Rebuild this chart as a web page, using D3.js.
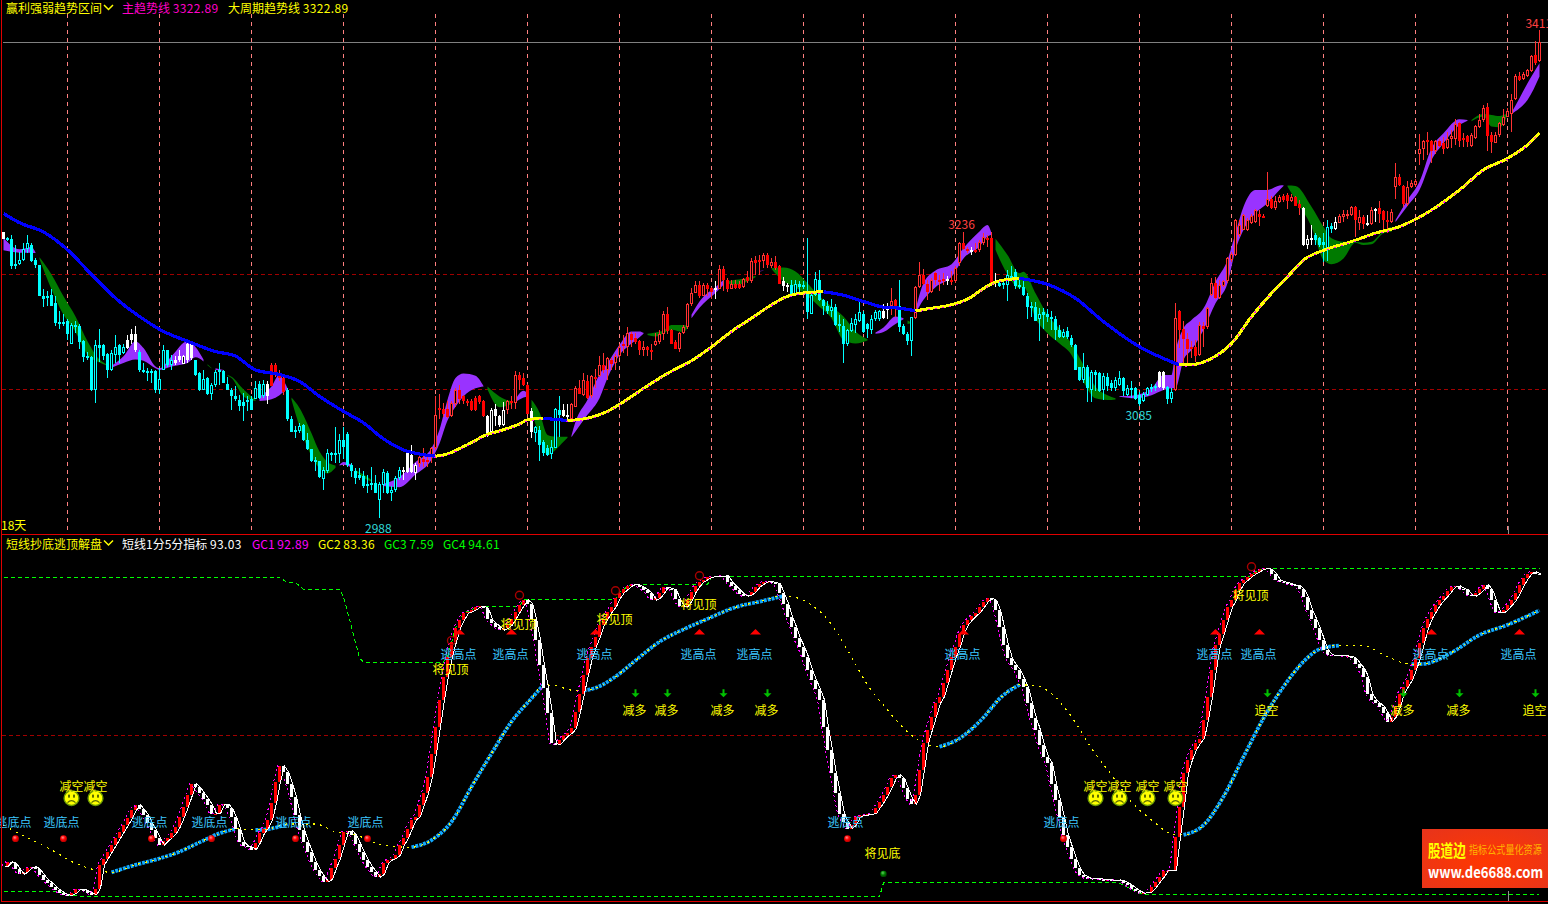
<!DOCTYPE html>
<html>
<head>
<meta charset="utf-8">
<script src="https://cdn.jsdelivr.net/npm/d3@7"></script>
<style>
  html, body { margin: 0; background: #000; overflow: hidden; }
  text { font-family: "Noto Sans CJK SC", "Noto Sans", sans-serif; font-size: 12px; dominant-baseline: central; }
</style>
</head>
<body>
<svg id="chart" width="1548" height="904"></svg>
<script>
// candles, one value per bar
const highs = [
  3237,3233,3234,3226,3220,3227,3234,3227,3214,3208,
  3187,3186,3187,3181,3168,3166,3161,3158,3160,3157,
  3143,3133,3129,3143,3153,3140,3132,3134,3147,3140,
  3140,3147,3153,3155,3134,3123,3119,3118,3117,3119,
  3139,3134,3130,3129,3134,3130,3142,3142,3126,3115,
  3117,3111,3106,3117,3123,3117,3111,3101,3103,3095,
  3097,3094,3094,3107,3107,3108,3107,3123,3123,3117,
  3111,3101,3077,3068,3071,3070,3062,3048,3041,3038,
  3033,3048,3046,3067,3061,3067,3063,3036,3032,3032,
  3029,3026,3033,3026,3020,3031,3029,3016,3025,3033,
  3033,3046,3052,3036,3043,3049,3042,3050,3094,3096,
  3088,3090,3090,3101,3104,3095,3092,3092,3094,3095,
  3091,3078,3084,3087,3078,3089,3091,3094,3116,3115,
  3114,3105,3084,3068,3068,3056,3052,3056,3084,3094,
  3087,3087,3088,3103,3108,3114,3113,3113,3118,3129,
  3132,3128,3127,3131,3140,3147,3154,3150,3149,3143,
  3142,3138,3140,3149,3152,3168,3172,3153,3143,3150,
  3156,3175,3188,3194,3194,3193,3193,3189,3194,3208,
  3207,3197,3195,3195,3194,3197,3203,3214,3216,3217,
  3219,3219,3214,3216,3208,3198,3193,3195,3195,3194,
  3194,3232,3185,3202,3204,3179,3177,3179,3174,3165,
  3161,3153,3162,3166,3177,3168,3158,3165,3169,3169,
  3174,3175,3188,3179,3195,3157,3150,3163,3190,3211,
  3205,3195,3197,3202,3200,3201,3199,3203,3207,3228,
  3237,3224,3224,3227,3230,3236,3234,3237,3201,3195,
  3195,3204,3207,3205,3197,3198,3184,3176,3176,3171,
  3171,3170,3168,3164,3156,3153,3154,3147,3140,3120,
  3132,3121,3117,3117,3115,3114,3114,3108,3111,3116,
  3111,3104,3107,3102,3098,3098,3102,3105,3105,3116,
  3116,3103,3101,3175,3169,3160,3149,3142,3143,3159,
  3159,3172,3197,3198,3195,3195,3215,3220,3248,3247,
  3253,3249,3253,3257,3256,3253,3289,3268,3268,3269,
  3270,3271,3270,3268,3265,3259,3234,3243,3236,3233,
  3236,3247,3245,3250,3253,3256,3256,3260,3260,3256,
  3252,3252,3259,3258,3264,3256,3255,3257,3297,3287,
  3278,3281,3282,3283,3322,3317,3324,3317,3317,3318,
  3320,3324,3326,3335,3333,3323,3321,3323,3330,3340,
  3347,3349,3324,3324,3333,3344,3345,3357,3374,3376,
  3376,3379,3391,3403,3413
];
const lows = [
  3231,3229,3205,3205,3208,3212,3219,3211,3206,3181,
  3172,3173,3173,3155,3153,3155,3143,3140,3149,3135,
  3124,3126,3099,3088,3124,3126,3110,3116,3123,3123,
  3131,3135,3140,3133,3115,3114,3107,3106,3097,3096,
  3117,3120,3117,3121,3124,3122,3123,3126,3112,3099,
  3100,3095,3091,3102,3104,3106,3100,3082,3090,3081,
  3073,3081,3082,3092,3092,3093,3087,3103,3111,3107,
  3095,3073,3063,3058,3062,3055,3047,3037,3029,3023,
  3013,3027,3038,3036,3036,3040,3033,3024,3018,3021,
  3014,3010,3013,3010,2988,3010,3009,3003,3011,3021,
  3021,3027,3027,3021,3033,3033,3033,3036,3047,3074,
  3076,3075,3076,3085,3087,3087,3086,3081,3081,3087,
  3076,3059,3061,3068,3067,3068,3079,3083,3083,3100,
  3103,3079,3058,3054,3038,3042,3042,3040,3049,3059,
  3076,3074,3073,3085,3096,3094,3092,3093,3101,3111,
  3114,3108,3117,3117,3127,3132,3129,3137,3140,3130,
  3129,3129,3126,3138,3140,3143,3148,3140,3135,3133,
  3148,3153,3173,3184,3180,3181,3181,3179,3179,3187,
  3186,3185,3187,3187,3187,3188,3193,3193,3200,3200,
  3206,3206,3206,3204,3192,3186,3185,3181,3181,3182,
  3187,3161,3166,3181,3177,3165,3166,3163,3155,3150,
  3123,3138,3150,3149,3159,3149,3145,3148,3160,3160,
  3161,3161,3165,3163,3150,3147,3139,3129,3161,3188,
  3191,3178,3184,3191,3186,3191,3191,3191,3193,3207,
  3221,3219,3217,3219,3220,3226,3224,3192,3189,3189,
  3187,3177,3195,3187,3187,3181,3161,3163,3160,3142,
  3153,3159,3152,3143,3145,3145,3144,3137,3117,3107,
  3106,3089,3089,3099,3098,3091,3099,3099,3099,3103,
  3094,3094,3093,3091,3086,3089,3094,3098,3099,3101,
  3100,3087,3088,3099,3136,3123,3123,3127,3124,3129,
  3137,3153,3181,3179,3179,3189,3193,3211,3216,3233,
  3239,3238,3244,3245,3242,3249,3259,3257,3256,3262,
  3263,3257,3263,3260,3252,3225,3222,3226,3226,3224,
  3211,3212,3236,3239,3245,3246,3248,3251,3233,3239,
  3240,3242,3243,3246,3245,3240,3236,3245,3266,3277,
  3259,3260,3275,3276,3295,3300,3304,3297,3305,3311,
  3305,3309,3310,3313,3311,3311,3311,3311,3318,3327,
  3333,3307,3306,3314,3320,3329,3337,3324,3352,3368,
  3369,3372,3376,3382,3385
];
const bodyTop = [
  3237,3232,3231,3209,3213,3222,3227,3226,3213,3208,
  3181,3181,3182,3175,3159,3159,3160,3156,3156,3155,
  3142,3129,3128,3139,3139,3139,3131,3132,3137,3139,
  3137,3143,3148,3148,3133,3117,3116,3116,3116,3109,
  3134,3134,3126,3126,3129,3129,3140,3140,3126,3114,
  3109,3110,3104,3115,3117,3116,3105,3100,3094,3091,
  3089,3091,3092,3101,3105,3105,3105,3121,3121,3114,
  3110,3100,3074,3065,3068,3069,3056,3048,3039,3038,
  3030,3045,3045,3045,3056,3056,3061,3034,3029,3026,
  3025,3018,3019,3019,3018,3028,3027,3013,3023,3030,
  3030,3045,3043,3034,3041,3040,3039,3049,3078,3084,
  3083,3083,3088,3100,3100,3094,3090,3090,3093,3094,
  3090,3077,3082,3083,3077,3082,3090,3090,3113,3113,
  3110,3104,3081,3067,3065,3054,3049,3050,3083,3082,
  3082,3078,3087,3101,3101,3108,3107,3112,3111,3121,
  3121,3127,3126,3129,3137,3140,3149,3148,3145,3142,
  3137,3137,3134,3142,3148,3166,3166,3152,3141,3149,
  3154,3174,3184,3191,3191,3191,3191,3188,3188,3205,
  3205,3195,3192,3192,3192,3196,3198,3212,3213,3213,
  3217,3217,3211,3211,3207,3194,3191,3191,3192,3192,
  3191,3183,3182,3196,3195,3178,3173,3172,3172,3157,
  3155,3152,3158,3161,3167,3166,3157,3161,3167,3168,
  3168,3171,3177,3178,3173,3155,3148,3163,3189,3200,
  3200,3192,3195,3201,3195,3196,3196,3195,3206,3227,
  3227,3222,3221,3221,3228,3233,3232,3232,3194,3193,
  3193,3200,3199,3202,3191,3189,3181,3173,3172,3166,
  3167,3166,3163,3161,3152,3150,3151,3145,3139,3120,
  3120,3120,3115,3115,3114,3112,3111,3106,3108,3110,
  3110,3101,3101,3101,3095,3096,3101,3102,3103,3115,
  3115,3102,3098,3162,3168,3153,3144,3137,3137,3156,
  3155,3171,3193,3193,3191,3194,3214,3218,3247,3243,
  3252,3247,3251,3256,3253,3251,3266,3266,3264,3267,
  3268,3269,3267,3267,3261,3258,3231,3232,3234,3232,
  3228,3241,3242,3246,3251,3253,3253,3259,3259,3250,
  3250,3245,3256,3257,3258,3255,3247,3254,3285,3285,
  3277,3276,3280,3281,3309,3316,3317,3316,3316,3316,
  3314,3318,3320,3331,3332,3319,3320,3321,3329,3334,
  3345,3346,3321,3321,3332,3337,3342,3352,3373,3373,
  3374,3378,3390,3391,3402
];
const bodyBottom = [
  3231,3230,3207,3207,3209,3213,3222,3212,3208,3181,
  3179,3180,3173,3158,3158,3158,3148,3140,3154,3141,
  3128,3127,3100,3100,3136,3129,3117,3117,3130,3130,
  3132,3136,3143,3134,3117,3115,3114,3115,3100,3100,
  3117,3121,3121,3123,3126,3122,3126,3127,3113,3100,
  3100,3096,3096,3104,3115,3106,3100,3094,3092,3086,
  3086,3090,3082,3092,3093,3094,3094,3103,3113,3110,
  3098,3074,3063,3064,3064,3056,3048,3038,3037,3024,
  3022,3029,3044,3044,3044,3050,3034,3029,3023,3023,
  3016,3016,3018,3010,3004,3017,3010,3010,3013,3023,
  3029,3028,3028,3027,3035,3037,3038,3042,3049,3082,
  3079,3076,3077,3087,3092,3090,3088,3082,3082,3089,
  3077,3062,3063,3077,3069,3069,3082,3088,3088,3108,
  3104,3079,3063,3062,3052,3045,3043,3044,3049,3078,
  3077,3077,3074,3085,3096,3095,3093,3094,3109,3112,
  3117,3117,3122,3123,3129,3138,3137,3143,3141,3134,
  3134,3134,3133,3139,3141,3148,3151,3140,3135,3135,
  3149,3154,3174,3184,3181,3181,3187,3185,3187,3187,
  3195,3187,3187,3188,3188,3189,3194,3194,3210,3211,
  3212,3208,3207,3206,3192,3190,3190,3182,3183,3189,
  3189,3167,3166,3182,3178,3173,3168,3168,3156,3155,
  3140,3140,3151,3156,3160,3150,3153,3152,3161,3161,
  3162,3169,3173,3172,3154,3148,3142,3142,3162,3189,
  3192,3185,3185,3195,3194,3195,3195,3194,3194,3210,
  3222,3220,3220,3220,3221,3227,3231,3193,3193,3190,
  3191,3191,3197,3190,3189,3182,3172,3171,3160,3161,
  3165,3163,3161,3152,3146,3146,3146,3139,3117,3108,
  3108,3101,3100,3113,3099,3100,3103,3101,3101,3104,
  3099,3095,3100,3092,3087,3090,3095,3101,3102,3102,
  3101,3092,3092,3100,3152,3144,3135,3136,3129,3130,
  3153,3154,3182,3180,3180,3190,3194,3213,3217,3234,
  3239,3239,3245,3246,3250,3249,3260,3258,3258,3263,
  3265,3264,3264,3260,3258,3226,3226,3231,3230,3226,
  3226,3223,3240,3240,3245,3250,3251,3252,3247,3245,
  3244,3244,3244,3256,3253,3247,3246,3246,3276,3278,
  3261,3261,3276,3278,3305,3309,3315,3307,3307,3312,
  3309,3310,3318,3318,3316,3318,3315,3312,3319,3328,
  3334,3320,3315,3314,3321,3330,3337,3340,3353,3369,
  3370,3373,3377,3384,3386
];
// bars whose close is above the open, drawn hollow
const upBars = [3,4,5,6,17,23,27,28,30,39,40,42,45,50,52,53,63,65,74,80,81,84,91,94,95,97,98,99,103,104,107,108,112,113,122,125,126,128,133,137,138,142,143,145,147,149,151,153,154,156,160,163,164,165,169,170,171,172,173,175,179,182,185,187,190,192,198,202,203,207,211,212,213,214,217,218,219,222,227,228,229,232,238,239,244,245,251,259,265,270,272,275,278,279,281,285,286,292,293,299,301,302,304,305,306,307,308,309,310,311,312,313,316,318,319,322,326,331,333,334,335,336,337,339,342,347,348,351,352,353,354,355,358,361,362,363,367,368,369,370,373,374,375,376,377,378,380,381,382,384];
// candle regime: from this bar on, w = white, c = cyan, r = red
const regimeFrom = [0,1,31,34,43,48,66,67,71,100,104,121,126,132,133,140,142,178,179,195,197,220,222,224,228,236,237,242,243,248,249,289,291,293,325,328,333,334,341,342,343,344];
const regimeName = ['w','c','w','c','w','c','w','r','c','w','r','w','r','w','c','w','r','w','r','w','c','w','r','c','r','w','r','w','r','w','c','w','c','r','w','c','w','r','w','r','w','r'];

// trend line, read at these bars
const trendBars = [0,4,10,16,22,28,34,40,46,53,58,63,69,74,79,85,90,95,100,108,110,116,121,124,129,131,135,141,146,151,156,160,166,172,177,182,187,192,196,200,205,210,215,220,224,228,232,236,241,246,249,254,261,268,275,284,290,294,298,302,307,312,317,321,325,330,337,343,349,355,364,370,376,381,384];
const trendVals = [3253,3245,3237,3221.5,3200,3179.5,3163.5,3150.5,3142,3133,3129,3117,3113,3107,3094,3081,3071,3057,3047.5,3042,3043,3052,3061,3064,3070,3073.6,3075,3073,3075,3081,3091.6,3101,3114,3125,3137,3150.5,3162,3173.6,3181,3184,3185,3182,3176.5,3171.6,3170.7,3168.4,3170.7,3172.8,3178.6,3190,3194.5,3196.6,3191.4,3179.3,3159,3137.2,3127,3121.3,3122,3127,3140,3163.3,3183.6,3198,3212.6,3221,3228.6,3236,3241.6,3251.8,3273.5,3291,3301,3312.7,3322.89];

// cloud edges: purple where fast is above slow, green where below
const bandBars = [0,4,7,8,9,12,15,18,21,24,26,27,30,33,35,38,39,42,46,48,50,51,52,53,55,56,57,60,63,64,67,69,70,71,72,74,77,79,81,83,84,85,87,88,90,92,95,99,103,107,109,111,113,115,118,120,121,124,127,128,130,131,132,134,136,138,140,141,142,143,146,149,151,154,157,159,160,161,163,165,167,170,171,172,174,176,178,180,181,183,186,188,189,190,192,195,198,201,204,207,210,213,216,218,220,223,225,226,227,228,230,233,237,240,244,246,247,248,251,254,255,258,261,264,267,270,273,276,278,279,283,287,290,292,293,295,297,300,303,306,308,310,313,316,319,320,321,323,327,330,332,335,338,340,342,345,347,348,351,354,357,360,364,366,367,370,372,374,376,377,379,381,384];
const bandFast = [3232,3222,3224,3219.2,3213.4,3187,3165,3150,3130,3123.5,3120.6,3120.6,3129,3142,3136,3120,3118.5,3129,3142,3137,3126,3121,3118.3,3118.5,3117,3112,3110,3094,3090,3094,3102.6,3113,3108,3101,3091,3068,3042,3031.5,3027,3032,3034.5,3037,3034.5,3028.6,3023,3020,3018,3024,3037,3049,3065,3091,3110,3114,3112,3103,3100,3084.6,3087.5,3091.6,3099,3097,3082,3059,3043,3047.5,3054.5,3058,3060,3072,3091,3113,3123,3139,3150.5,3150.5,3149.3,3147.3,3146,3149,3152,3150,3154,3165,3176.5,3184,3189,3195.4,3192.5,3191,3194,3197.7,3203,3203.5,3204.7,3194,3189,3181,3172,3162,3143,3140,3142.6,3149.6,3154,3163.5,3162,3157,3157.7,3169,3192.5,3203.5,3209,3223,3237.5,3243,3236,3221.5,3200,3188,3189.4,3161.9,3148.8,3140,3130,3106.8,3092.3,3090.8,3091.4,3094.3,3095.1,3101,3112.6,3112.6,3132.9,3153.2,3160.4,3170.6,3193.8,3212.6,3235.8,3259,3273.5,3273.5,3277.3,3277.6,3276.5,3264.8,3241.6,3212.6,3209,3214,3227.7,3225.6,3226.2,3235.8,3237.2,3247.4,3264.8,3280.8,3309.8,3322.8,3335,3334.4,3333.2,3337.3,3328.6,3328,3338.8,3340.8,3353.3,3366.3,3383.7];
const bandSlow = [3221,3219,3219,3218.6,3215,3200,3181,3163.5,3142,3126,3121.5,3119,3123,3126,3125,3118.5,3117,3120,3123,3128,3124.4,3122,3118.6,3117,3116.5,3112.7,3111,3100,3091,3090,3091.6,3095,3098,3100,3093,3084,3062,3046,3037,3034,3034,3034.5,3032,3030,3026,3021.4,3016,3015,3026,3039,3053,3073,3085,3094,3101,3102.6,3102.6,3094,3089.6,3089,3093,3094,3091,3080,3060.5,3059,3059,3059,3058.5,3063.5,3078,3092.5,3110,3130,3140,3145.5,3148.4,3148.4,3149.6,3151.3,3156,3156,3155,3162,3171,3178,3184,3191,3194,3195.4,3197,3199,3202.7,3203.2,3205.5,3206,3202.6,3192.5,3181,3172,3163.5,3150.5,3143.8,3148.4,3150,3157,3161,3160,3158.3,3166,3178,3189,3198,3214,3224.4,3233,3234.5,3231,3217,3201,3202.4,3183.6,3164.8,3153,3140,3121.2,3102.4,3095.1,3092.3,3093.7,3092.3,3095,3099.5,3101,3101,3125.6,3134.3,3151.7,3174.9,3192.3,3221.3,3238.7,3253.2,3261.9,3273.5,3277,3277.3,3277,3259,3241.6,3231.5,3228.5,3228.5,3227.7,3228.5,3238.1,3241.6,3245.7,3259.6,3273.5,3299.6,3314.1,3330,3333.8,3334.4,3339.6,3338.8,3337.9,3340.2,3339.6,3344.5,3351.8,3372.1];

const priceGrid = [3200, 3100];
const topLine = 3402;
const dateBars = [16,39,62,85,108,131,154,177,200,215,238,261,284,307,330,353,376];

// oscillator, one value per bar
const oscMain = [
  15.2,16.3,15.9,14.3,13.0,13.7,14.8,15.0,14.3,12.8,
  11.6,10.7,9.7,8.8,8.1,7.5,7.4,7.9,9.0,9.0,
  8.6,8.1,7.5,9.2,15.5,17.2,19.0,20.8,22.6,24.3,
  26.1,27.9,30.1,31.5,30.3,28.8,26.6,24.8,22.6,20.8,
  21.9,22.8,23.9,25.7,28.2,31.0,34.1,37.1,36.2,34.6,
  33.2,31.5,29.2,29.2,31.5,31.7,30.6,28.3,25.2,21.7,
  20.5,20.2,19.6,21.4,23.9,25.2,27.5,31.9,37.7,41.9,
  40.3,37.2,33.7,28.8,24.8,21.7,19.0,16.3,14.1,12.5,
  11.0,11.6,14.6,17.2,20.8,24.3,24.6,23.5,21.2,19.0,
  16.8,15.0,13.7,12.2,13.0,15.9,16.8,17.2,18.1,20.8,
  22.6,25.2,27.5,28.3,31.5,34.6,39.0,45.2,52.3,59.5,
  65.7,71.0,75.0,78.6,80.8,82.6,83.0,83.5,84.2,84.5,
  83.9,81.0,79.9,79.0,78.1,78.6,79.5,81.2,83.0,84.8,
  86.1,85.2,81.2,75.5,68.8,62.6,55.9,47.9,47.5,48.8,
  49.9,50.6,51.9,56.3,61.2,66.1,70.6,73.7,76.4,79.5,
  81.2,83.0,84.4,86.6,88.1,89.0,89.9,90.3,90.1,89.5,
  88.8,87.9,86.1,86.6,87.9,89.5,89.2,88.8,86.3,84.5,
  84.5,86.1,88.4,89.9,91.0,91.6,92.2,92.4,92.5,92.5,
  92.6,91.0,89.9,88.8,87.7,87.2,87.5,88.4,89.7,90.4,
  91.0,91.0,90.8,90.4,87.9,85.2,81.7,79.0,75.9,73.7,
  71.0,67.5,64.8,62.3,59.5,52.3,46.1,39.9,34.6,29.2,
  27.0,25.2,26.1,28.2,28.8,28.8,29.0,29.2,30.8,32.3,
  34.1,36.3,38.6,39.5,38.6,35.9,33.2,31.7,34.1,40.8,
  47.9,51.5,55.0,58.6,60.3,63.9,67.5,71.0,73.7,77.2,
  79.5,80.8,81.9,82.8,84.2,85.7,86.6,86.1,83.5,79.0,
  74.1,70.6,68.8,67.5,65.2,63.0,58.6,54.6,51.5,47.5,
  44.3,42.6,37.2,32.8,28.3,23.5,20.3,17.2,14.6,12.8,
  12.3,11.7,11.9,11.9,11.6,11.5,11.5,11.3,11.5,11.3,
  10.7,10.1,9.2,8.6,7.9,8.1,8.3,9.5,11.0,12.3,
  14.0,14.0,14.1,23.0,31.0,39.9,43.5,46.1,47.9,49.2,
  54.1,60.3,67.5,74.1,77.2,80.8,84.2,86.1,88.8,90.6,
  91.5,92.4,93.1,93.7,94.3,94.6,94.3,93.2,91.5,91.0,
  90.8,90.4,90.1,89.9,89.0,87.0,83.5,81.2,78.6,75.5,
  72.8,71.5,71.4,71.4,71.4,71.2,71.2,70.6,69.2,67.9,
  65.7,61.2,59.5,58.6,57.7,55.9,53.7,55.0,57.7,61.2,
  63.0,64.8,67.5,70.6,74.6,78.6,81.2,83.0,84.8,86.1,
  87.2,88.6,89.7,89.9,89.2,88.8,87.5,87.2,87.9,89.0,
  90.1,89.0,86.1,83.0,82.7,83.6,84.8,86.1,87.9,90.1,
  91.9,93.2,93.7,93.1,93.03
];
// slow oscillator line
const gc2Bars = [0,3,8,12,18,24,27,33,39,44,49,54,58,63,66,71,78,83,88,94,99,102,107,112,117,122,127,132,135,138,142,145,148,153,158,164,170,176,183,189,195,198,202,207,211,216,221,226,231,234,239,244,250,254,258,262,267,272,277,282,287,293,295,300,305,310,315,320,325,329,334,340,345,352,355,362,369,376,384];
const gc2Vals = [26.1,24.3,21.7,19.5,15.9,13.9,13.5,15.5,17.2,19.0,21.5,23.9,25.1,24.8,25.0,26.4,26.4,24.3,23.5,21.0,20.3,20.2,22.1,27.0,36.3,45.2,53.7,59.9,63.5,63.3,62.1,62.0,62.7,65.7,70.0,75.0,78.3,81.1,84.2,85.7,87.2,86.8,84.8,79.6,72.8,63.5,56.8,51.0,47.5,47.0,49.2,53.7,60.8,63.5,63.3,61.2,55.0,46.6,39.5,32.3,27.5,23.5,23.5,26.1,33.7,44.3,54.6,63.0,69.7,73.0,74.0,74.0,71.5,69.0,69.1,72.1,76.8,79.5,83.36];
// green channel lines
const gc4Bars = [0,69,71,73,75,84,85,87,89,90,110,111,113,115,119,129,130,153,154,155,157,176,177,180,312,313,315,384];
const gc4Vals = [92.1,92.1,90.8,90.8,89.0,89.0,87.0,79.0,70.6,69.6,69.6,71.0,78.6,82.6,84.5,84.5,86.2,86.2,88.1,89.0,90.3,90.3,92.2,92.4,92.4,93.7,94.61,94.61];
const gc3Bars = [0,14,16,22,219,220,277,279,284,286,384];
const gc3Vals = [8.3,8.3,7.4,7.0,7.0,10.7,10.8,10.6,7.9,7.5,7.59];

// signals
const escapeLowBars = [3,15,37,52,73,91,211,265];
const escapeHighBars = [114,127,148,174,188,240,303,314,357,379];
const arrowBars = [158,166,180,191,316,350,364,383];
const arrowLabels = ['减多','减多','减多','减多','追空','减多','减多','追空'];
const faceBars = [17,23,273,279,286,293];
const topSignalBars = [112,129,153,174,312];
const topSignalVals = [75.3,87.4,88.6,92.6,95.0];
const bottomSignalBars = [220];
const bottomSignalVals = [13.1];
const escapeLowLevel = 22.5, escapeHighLevel = 77.6, arrowLevel = 61.3, faceLevel = 33.3;

const priceMarks = [
  {text: '3411', bar: 383.8, price: 3419, color: '#ff4040'},
  {text: '3236', bar: 239.5, price: 3244.5, color: '#ff4040'},
  {text: '3085', bar: 283.8, price: 3078.5, color: '#30d8d8'},
  {text: '2988', bar: 93.7, price: 2980.4, color: '#30d8d8'}
];

const svg = d3.select('#chart');
const x = d3.scaleLinear().domain([0, 384]).range([3.5, 1539.5]);
const priceY = d3.scaleLinear().domain([3000, 3400]).range([504.5, 44.5]);
const oscY = d3.scaleLinear().domain([0, 100]).range([923, 548]);
const RED = '#e00000', YELLOW = '#ffff00', SIGNAL_BLUE = '#3cc8ff';

const defs = svg.append('defs');
function ballGradient(id, light, mid, dark) {
  let g = defs.append('radialGradient').attr('id', id).attr('cx', '40%').attr('cy', '35%').attr('r', '65%');
  g.append('stop').attr('offset', '0%').attr('stop-color', light);
  g.append('stop').attr('offset', '50%').attr('stop-color', mid);
  g.append('stop').attr('offset', '100%').attr('stop-color', dark);
}
ballGradient('ballRed', '#ff9090', '#ff0000', '#b00000');
ballGradient('ballGreen', '#60d060', '#008000', '#004000');
let bannerFill = defs.append('radialGradient').attr('id', 'banner').attr('cx', '50%').attr('cy', '55%').attr('r', '70%');
bannerFill.append('stop').attr('offset', '0%').attr('stop-color', '#ff3800');
bannerFill.append('stop').attr('offset', '100%').attr('stop-color', '#e8341a');

// cuts knots into runs of one direction, neighbours share their end point
function directionRuns(vals) {
  let runs = [], run = [0];
  for (let i = 1; i < vals.length; i++) {
    let rising = vals[i] > vals[i - 1];
    if (run.length > 1 && rising !== run.rising) {
      runs.push(run);
      run = [i - 1];
    }
    run.rising = rising;
    run.push(i);
  }
  runs.push(run);
  return runs;
}

// ---- grid
const grid = svg.append('g').attr('shape-rendering', 'crispEdges');
grid.selectAll('.date').data(dateBars).enter().append('line')
  .attr('x1', d => x(d)).attr('x2', d => x(d)).attr('y1', 14).attr('y2', 534)
  .attr('stroke', '#ff8080').attr('stroke-dasharray', '4 4');
grid.selectAll('.level').data(priceGrid).enter().append('line')
  .attr('x1', 2).attr('x2', 1548).attr('y1', d => priceY(d)).attr('y2', d => priceY(d))
  .attr('stroke', '#a00000').attr('stroke-dasharray', '4 3');
grid.append('line').attr('x1', 3).attr('x2', 1548).attr('y1', priceY(topLine)).attr('y2', priceY(topLine)).attr('stroke', '#808080');
grid.append('line').attr('x1', 2).attr('x2', 1548).attr('y1', oscY(50)).attr('y2', oscY(50))
  .attr('stroke', '#a00000').attr('stroke-dasharray', '4 3');

// ---- cloud
const cloud = svg.append('g');
const bandArea = d3.area().x(i => x(bandBars[i])).y0(i => priceY(bandFast[i])).y1(i => priceY(bandSlow[i])).curve(d3.curveMonotoneX);
let section = [];
bandBars.forEach((d, i) => {
  if (section.length && (bandFast[i] > bandSlow[i]) !== (bandFast[section[0]] > bandSlow[section[0]])) {
    drawCloud(section);
    section = [];
  }
  section.push(i);
});
drawCloud(section);
function drawCloud(part) {
  cloud.append('path').attr('d', bandArea(part))
    .attr('fill', bandFast[part[0]] > bandSlow[part[0]] ? '#9933ff' : '#007a00');
}

// ---- candles
const upSet = new Set(upBars);
const regime = i => regimeName[d3.bisectRight(regimeFrom, i) - 1];
const wickColor = {w: '#ffffff', c: '#00ffff', r: '#ff3232'};
const fillColor = {w: '#ffffff', c: '#00ffff', r: '#ff0000'};
const candle = svg.append('g').attr('shape-rendering', 'crispEdges')
  .selectAll('g').data(highs.map((d, i) => i)).enter().append('g');
candle.append('line')
  .attr('x1', i => x(i)).attr('x2', i => x(i))
  .attr('y1', i => priceY(highs[i])).attr('y2', i => priceY(lows[i]))
  .attr('stroke', i => wickColor[regime(i)]);
candle.append('rect')
  .attr('x', i => upSet.has(i) ? x(i) - 1 : x(i) - 1.5)
  .attr('width', i => upSet.has(i) ? 2 : 3)
  .attr('y', i => Math.round(priceY(bodyTop[i])) + (upSet.has(i) ? 0.5 : 0))
  .attr('height', i => Math.max(upSet.has(i) ? 1 : 2, Math.round(priceY(bodyBottom[i])) - Math.round(priceY(bodyTop[i])) - (upSet.has(i) ? 1 : 0)))
  .attr('fill', i => upSet.has(i) ? '#000' : fillColor[regime(i)])
  .attr('stroke', i => upSet.has(i) ? wickColor[regime(i)] : 'none');

// ---- trend line: blue falling, yellow rising with pink specks
const trendLine = d3.line().x(i => x(trendBars[i])).y(i => priceY(trendVals[i])).curve(d3.curveMonotoneX);
const trendGroup = svg.append('g').attr('fill', 'none').attr('shape-rendering', 'crispEdges');
directionRuns(trendVals).forEach(run => {
  if (run.rising) {
    trendGroup.append('path').attr('d', trendLine(run)).attr('stroke', YELLOW).attr('stroke-width', 3);
    trendGroup.append('path').attr('d', trendLine(run)).attr('stroke', '#ff00ff').attr('stroke-width', 1)
      .attr('stroke-dasharray', '2 5').attr('transform', 'translate(-1,1.4)');
  } else {
    trendGroup.append('path').attr('d', trendLine(run)).attr('stroke', '#0000ff').attr('stroke-width', 3.2);
  }
});

// ---- oscillator channel lines
const stepLine = (bars, vals) => d3.line().x(i => x(bars[i])).y(i => oscY(vals[i]))(bars.map((d, i) => i));
svg.append('path').attr('d', stepLine(gc4Bars, gc4Vals)).attr('fill', 'none').attr('stroke', '#00ff00').attr('stroke-dasharray', '4 3').attr('shape-rendering', 'crispEdges');
svg.append('path').attr('d', stepLine(gc3Bars, gc3Vals)).attr('fill', 'none').attr('stroke', '#00ff00').attr('stroke-dasharray', '4 3').attr('shape-rendering', 'crispEdges');

// ---- slow line: blue blocks rising, thin yellow dots all along
const gc2Line = d3.line().x(i => x(gc2Bars[i])).y(i => oscY(gc2Vals[i])).curve(d3.curveMonotoneX);
directionRuns(gc2Vals).filter(run => run.rising).forEach(run => {
  svg.append('path').attr('d', gc2Line(run)).attr('fill', 'none')
    .attr('stroke', '#10a8ff').attr('stroke-width', 3.8).attr('stroke-dasharray', '3 1');
});
svg.append('path').attr('d', gc2Line(gc2Bars.map((d, i) => i))).attr('fill', 'none')
  .attr('stroke', YELLOW).attr('stroke-width', 1.1).attr('stroke-dasharray', '2 5').attr('shape-rendering', 'crispEdges');

// ---- main oscillator: sticks run from the last value to this one
const sticks = svg.append('g').attr('shape-rendering', 'crispEdges');
sticks.selectAll('rect').data(oscMain.slice(1).map((d, i) => i + 1)).enter().append('rect')
  .attr('x', i => x(i) - 1.5).attr('width', 3)
  .attr('y', i => oscY(Math.max(oscMain[i], oscMain[i - 1])))
  .attr('height', i => Math.max(1, Math.abs(oscY(oscMain[i]) - oscY(oscMain[i - 1]))))
  .attr('fill', i => oscMain[i] >= oscMain[i - 1] ? '#ff0000' : '#ffffff');
const mainIndex = oscMain.map((d, i) => i);
svg.append('path')
  .attr('d', d3.line().x(i => x(i) - 2).y(i => oscY(oscMain[i]))(mainIndex))
  .attr('fill', 'none').attr('stroke', '#ff00ff').attr('stroke-dasharray', '2 3').attr('shape-rendering', 'crispEdges');
svg.append('path')
  .attr('d', d3.line().x(i => x(i) + 1).y(i => oscY(oscMain[Math.max(0, i - 1)]))(mainIndex))
  .attr('fill', 'none').attr('stroke', '#ffffff').attr('shape-rendering', 'crispEdges');

// ---- signals
const label = (sel, color) => sel.attr('text-anchor', 'middle').attr('fill', color);
svg.selectAll('.lowBall').data(escapeLowBars).enter().append('circle')
  .attr('cx', d => x(d)).attr('cy', oscY(escapeLowLevel)).attr('r', 3.4).attr('fill', 'url(#ballRed)');
label(svg.selectAll('.lowText').data(escapeLowBars).enter().append('text')
  .attr('x', d => x(d) - 2).attr('y', oscY(escapeLowLevel) - 17).text('逃底点'), SIGNAL_BLUE);

svg.selectAll('.tri').data(escapeHighBars).enter().append('path')
  .attr('d', 'M-5.5,2.5L0,-3L5.5,2.5Z')
  .attr('transform', d => `translate(${x(d)},${oscY(escapeHighLevel)})`)
  .attr('fill', '#ff0000');
label(svg.selectAll('.highText').data(escapeHighBars).enter().append('text')
  .attr('x', d => x(d) - 1).attr('y', oscY(escapeHighLevel) + 21.5).text('逃高点'), SIGNAL_BLUE);

svg.selectAll('.arrow').data(arrowBars).enter().append('path')
  .attr('d', 'M-1,-4H1V0H4L0,4L-4,0H-1Z')
  .attr('transform', d => `translate(${x(d)},${oscY(arrowLevel)})`)
  .attr('fill', '#00c000');
label(svg.selectAll('.arrowText').data(arrowBars).enter().append('text')
  .attr('x', d => x(d) - 1).attr('y', oscY(arrowLevel) + 16.5).text((d, i) => arrowLabels[i]), YELLOW);

const face = svg.selectAll('.face').data(faceBars).enter().append('g')
  .attr('transform', d => `translate(${x(d)},${oscY(faceLevel)})`);
face.append('circle').attr('r', 7.4).attr('fill', YELLOW).attr('stroke', '#6a9a00').attr('stroke-width', 1.4);
face.append('rect').attr('x', -3.5).attr('y', -3.5).attr('width', 2).attr('height', 3).attr('fill', '#5a6a00');
face.append('rect').attr('x', 1.5).attr('y', -3.5).attr('width', 2).attr('height', 3).attr('fill', '#5a6a00');
face.append('path').attr('d', 'M-4,4.5Q0,0.5 4,4.5').attr('fill', 'none').attr('stroke', '#5a6a00').attr('stroke-width', 1.3);
label(svg.selectAll('.faceText').data(faceBars).enter().append('text')
  .attr('x', d => x(d)).attr('y', oscY(faceLevel) - 13).text('减空'), YELLOW);

svg.selectAll('.topRing').data(topSignalBars).enter().append('circle')
  .attr('cx', d => x(d)).attr('cy', (d, i) => oscY(topSignalVals[i])).attr('r', 4)
  .attr('fill', 'none').attr('stroke', '#a80000').attr('stroke-width', 1.4);
label(svg.selectAll('.topText').data(topSignalBars).enter().append('text')
  .attr('x', d => x(d) - 1).attr('y', (d, i) => oscY(topSignalVals[i]) + 28).text('将见顶'), YELLOW);

svg.selectAll('.bottomBall').data(bottomSignalBars).enter().append('circle')
  .attr('cx', d => x(d)).attr('cy', (d, i) => oscY(bottomSignalVals[i])).attr('r', 3.2).attr('fill', 'url(#ballGreen)');
label(svg.selectAll('.bottomText').data(bottomSignalBars).enter().append('text')
  .attr('x', d => x(d) - 1).attr('y', (d, i) => oscY(bottomSignalVals[i]) - 21.5).text('将见底'), YELLOW);

// ---- price marks
priceMarks.forEach(m => {
  svg.append('text').attr('x', x(m.bar)).attr('y', priceY(m.price)).attr('text-anchor', 'middle')
    .attr('fill', m.color).text(m.text);
});
svg.append('text').attr('x', 1).attr('y', 524.5).attr('fill', YELLOW).text('18天');

// ---- frame
const frame = svg.append('g').attr('shape-rendering', 'crispEdges').attr('stroke', RED);
frame.append('line').attr('x1', 1.5).attr('x2', 1.5).attr('y1', 0).attr('y2', 902);
frame.append('line').attr('x1', 1).attr('x2', 1548).attr('y1', 534.5).attr('y2', 534.5);
frame.append('line').attr('x1', 1).attr('x2', 1548).attr('y1', 901.5).attr('y2', 901.5);
grid.append('line').attr('x1', 1508.5).attr('x2', 1508.5).attr('y1', 526).attr('y2', 534).attr('stroke', '#909090');
svg.append('line').attr('x1', 1508.5).attr('x2', 1508.5).attr('y1', 891).attr('y2', 901).attr('stroke', '#909090').attr('shape-rendering', 'crispEdges');

// ---- headers, the numbers are spaced out a little like the terminal font
function header(y, items) {
  items.forEach(d => {
    let t = svg.append('text').attr('x', d.x).attr('y', y).attr('fill', d.color);
    t.append('tspan').text(d.text + ' ');
    t.append('tspan').style('letter-spacing', '0.35px').text(d.value);
  });
  svg.append('path').attr('d', `M104,${y - 2}L108.5,${y + 2.5}L113,${y - 2}`).attr('fill', 'none').attr('stroke', YELLOW).attr('stroke-width', 1.5);
}
header(7, [
  {x: 6, text: '赢利强弱趋势区间', value: '', color: YELLOW},
  {x: 122, text: '主趋势线', value: '3322.89', color: '#ff00c8'},
  {x: 228, text: '大周期趋势线', value: '3322.89', color: YELLOW}
]);
header(542.5, [
  {x: 6, text: '短线抄底逃顶解盘', value: '', color: YELLOW},
  {x: 122, text: '短线1分5分指标', value: '93.03', color: '#ffffff'},
  {x: 252, text: 'GC1', value: '92.89', color: '#ff00ff'},
  {x: 318, text: 'GC2', value: '83.36', color: YELLOW},
  {x: 384, text: 'GC3', value: '7.59', color: '#00ff00'},
  {x: 443, text: 'GC4', value: '94.61', color: '#00ff00'}
]);

// ---- site banner
svg.append('rect').attr('x', 1422).attr('y', 829).attr('width', 126).attr('height', 59).attr('fill', 'url(#banner)');
svg.append('text').attr('transform', 'translate(1428,849) scale(1,1.4)').attr('fill', '#ffff00').style('font-size', '12.6px').style('font-weight', 700).text('股道边');
svg.append('text').attr('transform', 'translate(1469,849) scale(1,1.3)').attr('fill', '#ffb400').style('font-size', '9.1px').text('指标公式量化资源');
svg.append('text').attr('x', 1428).attr('y', 871).attr('fill', '#ffffff').attr('textLength', 115).attr('lengthAdjust', 'spacingAndGlyphs')
  .style('font-size', '15px').style('font-weight', 700).text('www.de6688.com');
</script>
</body>
</html>
